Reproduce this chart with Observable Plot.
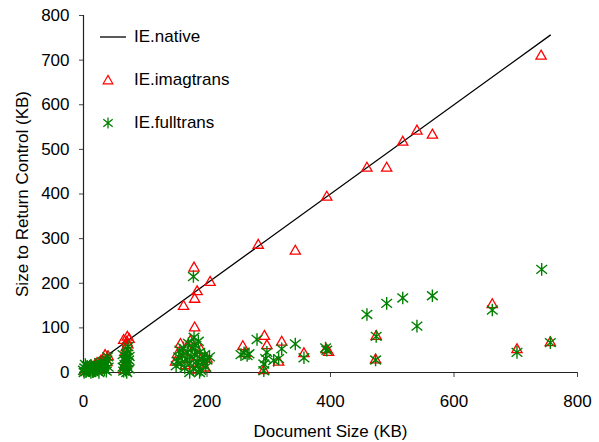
<!DOCTYPE html>
<html>
<head>
<meta charset="utf-8">
<script src="https://cdn.jsdelivr.net/npm/d3@7"></script>
<script src="https://cdn.jsdelivr.net/npm/@observablehq/plot@0.6"></script>
<style>
  html, body { margin: 0; padding: 0; background: #fff; }
  #wrap { position: relative; width: 599px; height: 442px; font-family: "Liberation Sans", Arial, Helvetica, sans-serif; }
  #legend { position: absolute; left: 0; top: 0; font-size: 17px; color: #000; }
  .item { position: absolute; left: 98px; display: flex; align-items: center; white-space: nowrap; }
  .item svg { margin-right: 6px; }
</style>
</head>
<body>
<div id="wrap"></div>
<script>
// ---- data ----
const seriesNames = ["IE.native", "IE.imagtrans", "IE.fulltrans"];
const xTicks = [0, 200, 400, 600, 800];
const yTicks = [0, 100, 200, 300, 400, 500, 600, 700, 800];

const nativeSize   = [0, 756];
const nativeReturn = [0, 756];

const imagSize = [2,5,8,10,12,15,18,20,22,25,28,30,33,35,38,40,28,
  66,67,68,68,69,70,71,72,70,65,74,
  149,152,157,160,165,168,173,175,178,180,180,184,162,179,205,182,186,190,193,197,200,
  258,262,283,293,297,292,316,321,343,357,394,397,393,459,474,473,491,517,540,565,662,702,741,756];
const imagReturn = [3,8,5,12,4,10,15,6,20,12,25,18,30,38,22,35,5,
  5,15,30,45,55,68,79,62,20,72,74,
  23,40,63,30,15,55,70,45,20,100,164,181,148,234,202,5,35,50,25,10,30,
  58,42,285,81,60,4,23,68,272,42,393,45,51,458,81,28,458,516,541,532,152,51,709,67];

const fullSize = [0,2,4,6,8,10,12,14,16,18,20,22,24,26,28,30,32,34,36,38,40,3,12,25,37,1,7,15,33,39,
  65,66,67,68,69,70,71,72,68,70,72,66,70,64,74,74,64,73,
  150,152,154,156,158,160,162,164,166,168,170,172,174,176,178,178,179,180,182,184,186,186,188,190,192,194,196,198,200,204,172,188,
  255,260,265,268,281,292,292,295,297,308,316,321,343,357,392,394,459,474,473,491,517,540,565,662,702,742,756];
const fullReturn = [5,10,2,14,8,4,16,10,3,12,18,8,14,22,10,16,24,6,20,28,12,18,0,0,3,0,6,2,14,35,
  3,10,18,26,34,42,50,58,5,14,22,30,0,12,8,36,40,28,
  15,25,35,50,20,40,55,10,30,45,65,20,35,55,8,215,79,40,60,25,15,70,45,5,30,20,40,12,28,35,0,0,
  40,44,38,42,74,4,19,31,45,27,31,53,64,33,55,50,130,81,28,155,167,104,172,140,45,231,67];

// ---- build tables ----
const native = nativeSize.map((x, i) => ({x, y: nativeReturn[i]}));
const imag = imagSize.map((x, i) => ({x, y: imagReturn[i]}));
const full = fullSize.map((x, i) => ({x, y: fullReturn[i]}));

const starSymbol = {
  draw(ctx, size) {
    const r = Math.sqrt(size / Math.PI);
    const a = r * 0.85, b = r * 0.7;
    ctx.moveTo(0, -r); ctx.lineTo(0, r);
    ctx.moveTo(-a, -b); ctx.lineTo(a, b);
    ctx.moveTo(-a, b); ctx.lineTo(a, -b);
  }
};

const RED = "#ff0000", GREEN = "#008000";

const chart = Plot.plot({
  width: 599,
  height: 442,
  marginLeft: 83,
  marginRight: 22,
  marginTop: 15,
  marginBottom: 70,
  style: {fontFamily: "'Liberation Sans', Arial, Helvetica, sans-serif", fontSize: "17px", color: "#000", background: "#fff"},
  x: {domain: [0, 800]},
  y: {domain: [0, 800]},
  marks: [
    Plot.axisX({ticks: xTicks, tickSize: 5, tickPadding: 17, stroke: "#444", label: "Document Size (KB)", labelAnchor: "center", labelArrow: false, labelOffset: 64, fontSize: 17}),
    Plot.axisY({ticks: yTicks, tickSize: 4, tickPadding: 10, stroke: "#444", label: "Size to Return Control (KB)", labelAnchor: "center", labelArrow: false, labelOffset: 68, fontSize: 17}),
    Plot.ruleX([0], {stroke: "#222", strokeWidth: 1.2}),
    Plot.ruleY([0], {stroke: "#222", strokeWidth: 1.2}),
    Plot.line(native, {x: "x", y: "y", stroke: "#000", strokeWidth: 1.3}),
    Plot.dot(imag, {x: "x", y: "y", symbol: "triangle", r: 3.8, stroke: RED, strokeWidth: 1.3, fill: "none"}),
    Plot.dot(full, {x: "x", y: "y", symbol: starSymbol, r: 6.3, stroke: GREEN, strokeWidth: 1.4, fill: "none"})
  ]
});

const wrap = document.getElementById("wrap");
wrap.appendChild(chart);

// ---- legend ----
const legend = document.createElement("div");
legend.id = "legend";
const triPath = d3.symbol(d3.symbolTriangle, 3.6 * 3.6 * Math.PI)();
const starPath = d3.symbol(starSymbol, 5.5 * 5.5 * Math.PI)();
const items = [
  {name: seriesNames[0], top: 27, svg: `<svg width="30" height="20"><line x1="2" x2="28" y1="10" y2="10" stroke="#000" stroke-width="1.3"/></svg>`},
  {name: seriesNames[1], top: 70, svg: `<svg width="30" height="20"><path transform="translate(10,11)" d="${triPath}" fill="none" stroke="${RED}" stroke-width="1.2"/></svg>`},
  {name: seriesNames[2], top: 113, svg: `<svg width="30" height="20"><path transform="translate(10,10)" d="${starPath}" fill="none" stroke="${GREEN}" stroke-width="1.3"/></svg>`}
];
for (const it of items) {
  const d = document.createElement("div");
  d.className = "item";
  d.style.top = it.top + "px";
  d.innerHTML = it.svg + `<span>${it.name}</span>`;
  legend.appendChild(d);
}
wrap.appendChild(legend);
</script>
</body>
</html>
